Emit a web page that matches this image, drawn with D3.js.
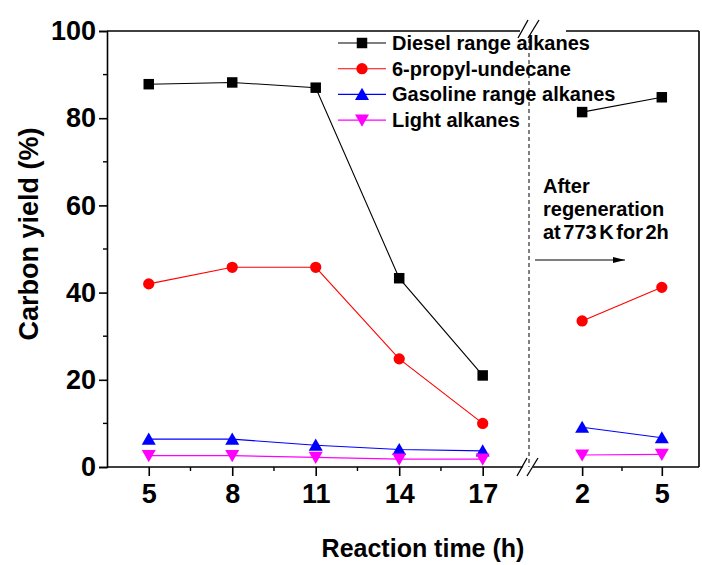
<!DOCTYPE html>
<html lang="en">
<head>
    <meta charset="UTF-8">
    <title>Carbon yield vs reaction time</title>
    <style>
        body {
            margin: 0;
            background: #fff;
        }
        svg {
            display: block;
            font-family: "Liberation Sans", Arial, sans-serif;
            font-weight: bold;
        }
    </style>
    <script src="https://d3js.org/d3.v7.min.js"></script>
</head>
<body>
    <svg width="702" height="565"></svg>
    <script>
        // data
        const timesBefore = [5, 8, 11, 14, 17];
        const timesAfter = [2, 5];
        const yTicks = [0, 20, 40, 60, 80, 100];

        const seriesNames = ["Diesel range alkanes", "6-propyl-undecane", "Gasoline range alkanes", "Light alkanes"];
        const seriesColors = ["#000000", "#ff0000", "#0000ff", "#ff00ff"];
        const seriesSymbols = ["square", "circle", "triangleUp", "triangleDown"];

        const dieselBefore = [87.8, 88.2, 87.0, 43.3, 21.0];
        const dieselAfter = [81.4, 84.8];
        const propylBefore = [42.0, 45.8, 45.8, 24.8, 10.0];
        const propylAfter = [33.5, 41.2];
        const gasolineBefore = [6.4, 6.4, 5.0, 4.0, 3.7];
        const gasolineAfter = [9.1, 6.7];
        const lightBefore = [2.6, 2.6, 2.2, 1.8, 1.8];
        const lightAfter = [2.75, 2.9];

        const before = [dieselBefore, propylBefore, gasolineBefore, lightBefore];
        const after = [dieselAfter, propylAfter, gasolineAfter, lightAfter];

        const svg = d3.select("svg");

        const plotLeft = 107, plotRight = 699, plotTop = 31, plotBottom = 467;
        const breakX = 530;

        const y = d3.scaleLinear().domain([0, 100]).range([plotBottom, plotTop]);
        const xA = d3.scaleLinear().domain([3.5, 18.7]).range([plotLeft, breakX]);
        const xB = d3.scaleLinear().domain([0.15, 6.4]).range([breakX + 3, plotRight]);

        // frame
        const frame = svg.append("g").attr("stroke", "#000").attr("stroke-width", 1.6).attr("fill", "none");
        frame.append("line").attr("x1", plotLeft).attr("x2", 520).attr("y1", plotTop).attr("y2", plotTop);
        frame.append("line").attr("x1", 566).attr("x2", plotRight).attr("y1", plotTop).attr("y2", plotTop);
        frame.append("line").attr("x1", plotRight).attr("x2", plotRight).attr("y1", plotTop).attr("y2", plotBottom);

        // y axis
        const yAxis = svg.append("g")
            .attr("transform", `translate(${plotLeft},0)`)
            .call(d3.axisLeft(y).tickValues(yTicks).tickSize(8).tickPadding(3).tickFormat(d3.format("d")));
        yAxis.attr("font-family", null).attr("font-size", null);
        yAxis.select(".domain").attr("stroke-width", 1.6);
        yAxis.selectAll(".tick line").attr("stroke-width", 1.6);
        yAxis.selectAll(".tick text").attr("font-size", 27).attr("fill", "#000");
        yAxis.append("g").selectAll("line")
            .data([10, 30, 50, 70, 90])
            .join("line")
            .attr("x1", -4).attr("x2", 0)
            .attr("y1", d => y(d)).attr("y2", d => y(d))
            .attr("stroke", "#000").attr("stroke-width", 1.4);

        // x axes
        function styleX(g) {
            g.attr("font-family", null).attr("font-size", null);
            g.select(".domain").remove();
            g.selectAll(".tick line").attr("stroke-width", 1.6);
            g.selectAll(".tick text").attr("font-size", 27).attr("fill", "#000");
        }
        svg.append("line")
            .attr("x1", plotLeft).attr("x2", plotRight).attr("y1", plotBottom).attr("y2", plotBottom)
            .attr("stroke", "#000").attr("stroke-width", 1.6);
        svg.append("g")
            .attr("transform", `translate(0,${plotBottom})`)
            .call(d3.axisBottom(xA).tickValues(timesBefore).tickSize(9).tickPadding(8).tickFormat(d3.format("d")))
            .call(styleX);
        svg.append("g")
            .attr("transform", `translate(0,${plotBottom})`)
            .call(d3.axisBottom(xB).tickValues(timesAfter).tickSize(9).tickPadding(8).tickFormat(d3.format("d")))
            .call(styleX);

        const minorA = [6.5, 9.5, 12.5, 15.5];
        const minorB = [3.5];
        const minorX = minorA.map(xA).concat(minorB.map(xB));
        svg.append("g").selectAll("line")
            .data(minorX)
            .join("line")
            .attr("x1", d => d).attr("x2", d => d)
            .attr("y1", plotBottom).attr("y2", plotBottom + 4)
            .attr("stroke", "#000").attr("stroke-width", 1.4);

        // axis breaks
        function axisBreak(cx, cy) {
            const g = svg.append("g");
            g.append("polygon")
                .attr("points", `${cx - 9},${cy + 9} ${cx - 1},${cy - 9} ${cx + 9},${cy - 9} ${cx + 1},${cy + 9}`)
                .attr("fill", "#fff");
            g.append("line").attr("x1", cx - 11).attr("y1", cy + 9).attr("x2", cx - 1).attr("y2", cy - 9);
            g.append("line").attr("x1", cx - 1).attr("y1", cy + 9).attr("x2", cx + 10).attr("y2", cy - 9);
            g.selectAll("line").attr("stroke", "#000").attr("stroke-width", 1.3);
        }
        axisBreak(528, plotBottom);
        axisBreak(529, plotTop - 2);

        // dashed separator
        svg.append("line")
            .attr("x1", breakX - 1).attr("x2", breakX - 1)
            .attr("y1", plotTop + 8).attr("y2", plotBottom)
            .attr("stroke", "#000").attr("stroke-width", 1)
            .attr("stroke-dasharray", "4,3");

        // symbols
        const symbolTypes = {
            square: d3.symbolSquare,
            circle: d3.symbolCircle,
            triangleUp: d3.symbolTriangle,
            triangleDown: d3.symbolTriangle
        };
        function marker(sel, i) {
            const type = seriesSymbols[i];
            sel.attr("d", d3.symbol().type(symbolTypes[type]).size(type === "square" ? 110 : type === "circle" ? 100 : 85)())
                .attr("fill", seriesColors[i]);
        }
        function placeMarker(sel, i, x, yy) {
            const flip = seriesSymbols[i] === "triangleDown" ? " rotate(180)" : "";
            const dy = seriesSymbols[i] === "triangleUp" ? 1.5 : seriesSymbols[i] === "triangleDown" ? -1.5 : 0;
            sel.attr("transform", `translate(${x},${yy + dy})${flip}`);
        }

        const line = d3.line();

        before.forEach((vals, i) => {
            const pts = vals.map((v, j) => [xA(timesBefore[j]), y(v)]);
            const pts2 = after[i].map((v, j) => [xB(timesAfter[j]), y(v)]);
            const g = svg.append("g");
            [pts, pts2].forEach(p => {
                g.append("path").attr("d", line(p))
                    .attr("fill", "none").attr("stroke", seriesColors[i]).attr("stroke-width", 1.1);
            });
            pts.concat(pts2).forEach(p => {
                g.append("path").call(marker, i).call(placeMarker, i, p[0], p[1]);
            });
        });

        // legend
        const legend = svg.append("g");
        seriesNames.forEach((name, i) => {
            const ly = 43 + i * 25.7;
            legend.append("line")
                .attr("x1", 338).attr("x2", 386).attr("y1", ly).attr("y2", ly)
                .attr("stroke", seriesColors[i]).attr("stroke-width", 1.1);
            legend.append("path").call(marker, i).call(placeMarker, i, 362, ly);
            legend.append("text")
                .attr("x", 392).attr("y", ly + 7)
                .attr("font-size", 20)
                .text(name);
        });

        // annotation
        const note = svg.append("text").attr("font-size", 20).attr("x", 543)
            .attr("word-spacing", -3);
        ["After", "regeneration", "at 773 K for 2h"].forEach((t, i) => {
            note.append("tspan").attr("x", 543).attr("y", 193 + i * 23).text(t);
        });
        svg.append("defs").append("marker")
            .attr("id", "arrow").attr("viewBox", "0 0 12 6")
            .attr("refX", 12).attr("refY", 3)
            .attr("markerWidth", 12).attr("markerHeight", 6)
            .attr("markerUnits", "userSpaceOnUse")
            .attr("orient", "auto")
            .append("path").attr("d", "M0,0 L12,3 L0,6 Z").attr("fill", "#000");
        svg.append("line")
            .attr("x1", 535).attr("x2", 625).attr("y1", 260).attr("y2", 260)
            .attr("stroke", "#000").attr("stroke-width", 1.1)
            .attr("marker-end", "url(#arrow)");

        // axis titles
        svg.append("text")
            .attr("x", 423).attr("y", 557)
            .attr("text-anchor", "middle")
            .attr("font-size", 25)
            .text("Reaction time (h)");
        svg.append("text")
            .attr("transform", "translate(38,234) rotate(-90)")
            .attr("text-anchor", "middle")
            .attr("font-size", 27)
            .text("Carbon yield (%)");
    </script>
</body>
</html>
